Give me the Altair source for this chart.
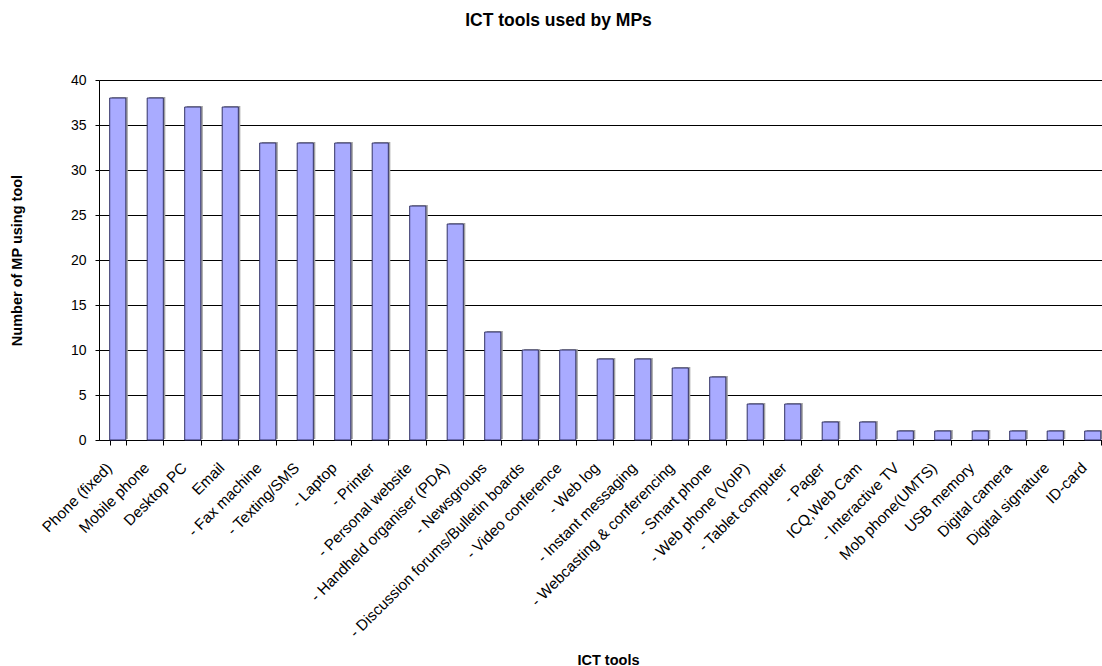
import altair as alt
import pandas as pd

tools = [
    "Phone (fixed)", "Mobile phone", "Desktop PC", "Email", "- Fax machine",
    "- Texting/SMS", "- Laptop", "- Printer", "- Personal website",
    "- Handheld organiser (PDA)", "- Newsgroups",
    "- Discussion forums/Bulletin boards", "- Video conference", "- Web log",
    "- Instant messaging", "- Webcasting & conferencing", "- Smart phone",
    "- Web phone (VoIP)", "- Tablet computer", "- Pager", "ICQ,Web Cam",
    "- Interactive TV", "Mob phone(UMTS)", "USB memory", "Digital camera",
    "Digital signature", "ID-card",
]
users = [38, 38, 37, 37, 33, 33, 33, 33, 26, 24, 12, 10, 10, 9, 9, 8, 7,
         4, 4, 2, 2, 1, 1, 1, 1, 1, 1]

df = pd.DataFrame({"tool": tools, "users": users})

FONT = "Liberation Sans"
BAND = 37.5
# the category band runs on past the right edge of the view
x_range = [0, BAND * len(tools)]

x_enc = alt.X(
    "tool:N", sort=None, title="ICT tools",
    scale=alt.Scale(range=x_range, paddingInner=0.57, paddingOuter=0.285),
    axis=alt.Axis(
        labelAngle=-45, labelAlign="right", labelBaseline="middle",
        labelFont=FONT, labelFontSize=15.3, labelColor="black",
        labelPadding=20, labelLimit=0, labelOverlap=False, labelOffset=-9,
        tickBand="extent", tickColor="black", tickSize=5,
        domainColor="black", grid=False,
        titleFont=FONT, titleFontSize=14.5, titleFontWeight="bold",
        titleColor="black", titleX=509, titleY=224, titleBaseline="alphabetic",
    ),
)
y_enc = alt.Y(
    "users:Q", title="Number of MP using tool",
    scale=alt.Scale(domain=[0, 40], nice=False),
    axis=alt.Axis(
        values=list(range(0, 41, 5)), labelFont=FONT, labelFontSize=14,
        labelColor="black", labelPadding=9, tickColor="black", tickSize=4,
        domainColor="black", gridColor="black", gridOpacity=1, gridWidth=1,
        titleFont=FONT, titleFontSize=14.5, titleFontWeight="bold",
        titleColor="black", titleX=-75, titleY=180,
    ),
)

shadow = alt.Chart(df).mark_bar(color="#a0a0a0", xOffset=2, yOffset=-1).encode(
    x=x_enc, y=y_enc
)
bars = alt.Chart(df).mark_bar(
    fill="#a9abff", stroke="#333366", strokeWidth=1
).encode(x=x_enc, y=y_enc)

chart = (
    alt.layer(shadow, bars)
    .properties(
        width=1003, height=360,
        autosize=alt.AutoSizeParams(type="none"),
        padding={"left": 99, "top": 80, "right": 0, "bottom": 226},
        title=alt.TitleParams(
            "ICT tools used by MPs", font=FONT, fontSize=17.5, fontWeight="bold",
            color="black", anchor="middle", dx=-42, offset=44,
        ),
    )
    .configure_view(stroke=None)
    .configure(background="white")
)

chart.save("out.html", embed_options={"renderer": "svg", "actions": False})
